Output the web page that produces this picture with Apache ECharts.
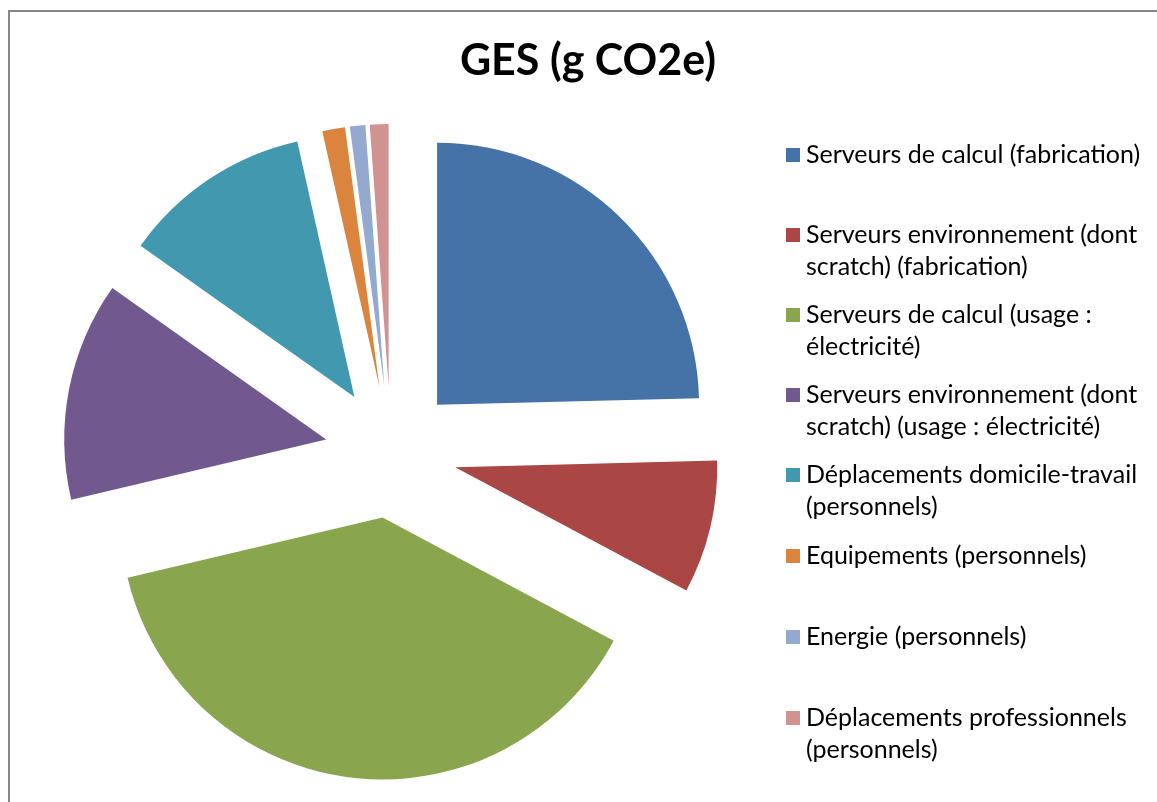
<!DOCTYPE html>
<html>
<head>
<meta charset="utf-8">
<title>GES (g CO2e)</title>
<script src="https://cdn.jsdelivr.net/npm/echarts@6/dist/echarts.min.js"></script>
<style>
  html, body { margin: 0; padding: 0; background: #fff; }
  #chart { width: 1157px; height: 802px; }
</style>
</head>
<body>
<div id="chart"></div>
<script>
// parts of the total (in %)
const categories = [
  'Serveurs de calcul (fabrication)',
  'Serveurs environnement (dont scratch) (fabrication)',
  'Serveurs de calcul (usage : électricité)',
  'Serveurs environnement (dont scratch) (usage : électricité)',
  'Déplacements domicile-travail (personnels)',
  'Equipements (personnels)',
  'Energie (personnels)',
  'Déplacements professionnels (personnels)'
]
// how the legend wraps each name
const legendLabels = [
  'Serveurs de calcul (fabrication)',
  'Serveurs environnement (dont\nscratch) (fabrication)',
  'Serveurs de calcul (usage :\nélectricité)',
  'Serveurs environnement (dont\nscratch) (usage : électricité)',
  'Déplacements domicile-travail\n(personnels)',
  'Equipements (personnels)',
  'Energie (personnels)',
  'Déplacements professionnels\n(personnels)'
]
const values = [24.6, 8.2, 38.5, 13.5, 11.7, 1.4, 0.95, 1.15]
const colors = ['#4572A7', '#AA4643', '#89A54E', '#71588F', '#4198AF', '#DB843D', '#93A9CF', '#D19392']

const FONT = 'Lato, "Open Sans", sans-serif'
const LINE_H = 32
const legendTop = [155, 235, 315, 395, 475, 556, 637, 718]

const chart = echarts.init(document.getElementById('chart'))

// one legend per entry so the spacing can follow the original
const legends = categories.map((name, i) => {
  const twoLines = legendLabels[i].indexOf('\n') >= 0
  return {
    orient: 'vertical',
    left: 786,
    top: twoLines ? legendTop[i] - LINE_H * 1.5 : legendTop[i] - LINE_H / 2,
    padding: 0,
    itemWidth: 14,
    itemHeight: 14,
    itemGap: 0,
    icon: 'rect',
    selectedMode: false,
    data: [name],
    // blank first line keeps the square level with the first text line
    formatter: () => twoLines ? '\n' + legendLabels[i] : legendLabels[i],
    textStyle: {
      fontFamily: FONT,
      fontSize: 25,
      lineHeight: LINE_H,
      color: '#000',
      padding: [0, 0, 0, 1]
    }
  }
})

const option = {
  animation: false,
  color: colors,
  title: {
    text: 'GES (g CO2e)',
    left: 588,
    textAlign: 'center',
    top: 40,
    padding: 0,
    textStyle: {
      fontFamily: FONT,
      fontSize: 43,
      fontWeight: 'bold',
      color: '#000'
    }
  },
  legend: legends,
  graphic: [
    {
      type: 'polyline',
      shape: { points: [[9, 802], [9, 11], [1157, 11]] },
      style: { stroke: '#868686', lineWidth: 2, fill: null },
      silent: true
    }
  ],
  series: [
    {
      name: 'GES (g CO2e)',
      type: 'pie',
      center: [391, 452],
      radius: 262,
      startAngle: 90,
      clockwise: true,
      selectedMode: 'multiple',
      selectedOffset: 66,
      label: { show: false },
      labelLine: { show: false },
      emphasis: { disabled: true },
      itemStyle: { borderWidth: 0 },
      data: categories.map((name, i) => ({
        name: name,
        value: values[i],
        selected: true
      }))
    }
  ]
}

chart.setOption(option)
</script>
</body>
</html>
